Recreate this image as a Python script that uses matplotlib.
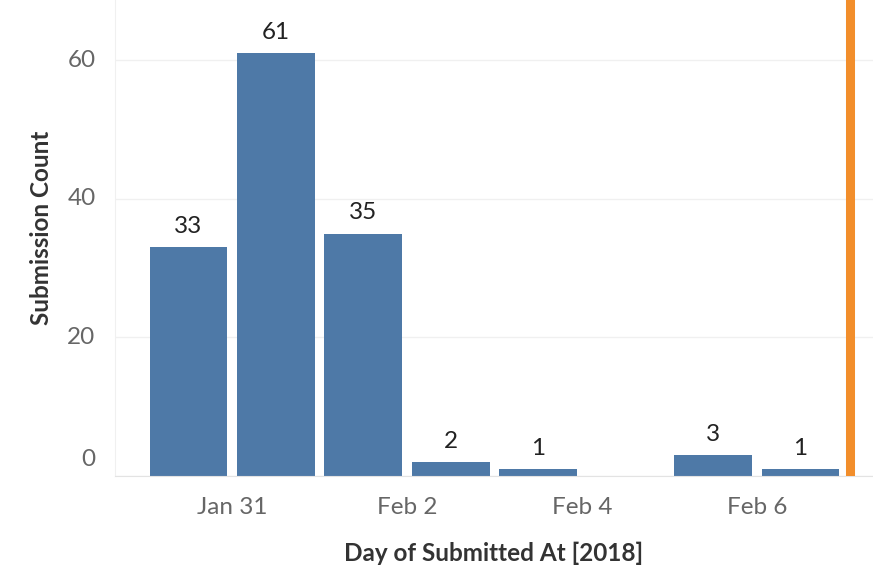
import numpy as np
from matplotlib import pyplot as plt
from matplotlib import transforms

#Submission counts per day (day 0 = Jan 30, 2018)
days = [0, 1, 2, 3, 4, 5, 6, 7]
counts = [33, 61, 35, 2, 1, 0, 3, 1]
tick_days = [1, 3, 5, 7]
tick_labels = ['Jan 31', 'Feb 2', 'Feb 4', 'Feb 6']
marker_day = 8.07  # orange reference line (just after Feb 7 00:00)

plt.rcParams['font.family'] = ['Lato', 'DejaVu Sans']

fig = plt.figure(figsize=(8.73, 5.69), dpi=100)
ax = fig.add_axes([0.1317, 0.1634, 0.8683, 0.8366])

x = np.array(days) + 0.5
bars = ax.bar(x, counts, width=0.89, color='#4e79a7', zorder=2)
for xi, c in zip(x, counts):
	if c > 0:
		ax.text(xi, c + 1.5, str(c), ha='center', va='bottom', fontsize=17.5, color='#222222')

ax.axvline(marker_day, color='#f28e2b', linewidth=6.5, zorder=3)

ax.set_xlim(-0.34, 8.33)
ax.set_ylim(0, 68.7)
ax.set_yticks([0, 20, 40, 60])
ax.set_xticks(tick_days)
ax.set_xticklabels(tick_labels)
ax.tick_params(axis='both', length=0, labelsize=17.5, labelcolor='#666666')
ax.tick_params(axis='x', pad=15)
ax.tick_params(axis='y', pad=14)
for lab in ax.get_yticklabels():
	lab.set_verticalalignment('center')
# the bottom label sits above the baseline, as in Tableau
zero_lab = ax.get_yticklabels()[0]
zero_lab.set_transform(zero_lab.get_transform() + transforms.ScaledTranslation(0, 17/100, fig.dpi_scale_trans))

ax.grid(True, axis='y', color='#f0f0f0', linewidth=1, zorder=0)
for s in ['top', 'right']:
	ax.spines[s].set_visible(False)
ax.spines['left'].set_color('#f0f0f0')
ax.spines['bottom'].set_color('#e3e3e3')

ax.set_xlabel('Day of Submitted At [2018]', fontsize=17.5, color='#333333', fontweight='bold', labelpad=17)
ax.set_ylabel('Submission Count', fontsize=17.5, color='#333333', fontweight='bold', labelpad=10)
ax.yaxis.label.set_y(0.521)

fig.savefig('out.png', dpi=100)
